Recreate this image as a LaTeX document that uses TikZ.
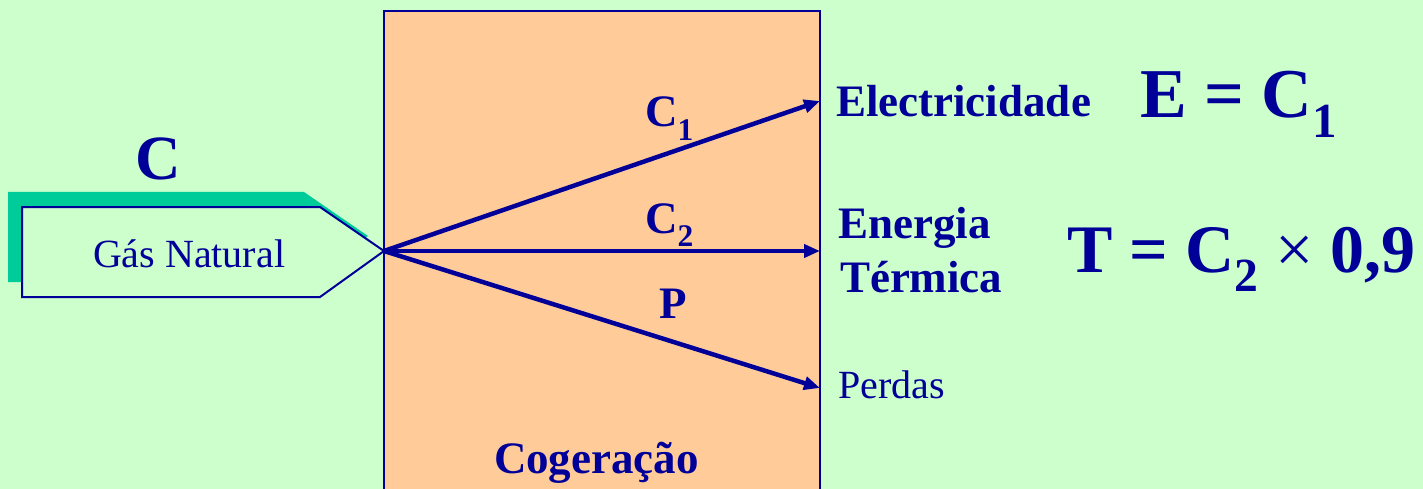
\documentclass[tikz,border=0pt]{standalone}
\usepackage{fontspec}
\setmainfont{Liberation Serif}
\usetikzlibrary{arrows.meta}
\definecolor{bgc}{HTML}{CCFFCC}
\definecolor{boxc}{HTML}{FFCC99}
\definecolor{navy}{HTML}{000099}
\definecolor{shadowc}{HTML}{00CC99}
\newcommand{\dsub}[2][0.28em]{\raisebox{-#1}{\scalebox{0.7}{#2}}}
\newcommand{\fs}[1]{\fontsize{#1}{#1}\selectfont}
\tikzset{
  txt/.style={inner sep=0pt, outer sep=0pt, anchor=base west, text=navy, font=\fs{40}},
  btxt/.style={txt, font=\fs{45}\bfseries},
  flow/.style={draw=navy, line width=4.5pt, -{Triangle[length=16pt,width=13pt]}},
}
\begin{document}
\begin{tikzpicture}[x=1pt,y=-1pt]
\fill[bgc] (0,0) rectangle (1423,489);
\useasboundingbox (0,0) rectangle (1423,489);
% Cogeracao box
\draw[fill=boxc, draw=navy, line width=2.5pt] (384,11) rectangle (820,495);
% shadow of gas arrow
\fill[shadowc] (8,192) -- (304,192) -- (368,236) -- (304,282) -- (8,282) -- cycle;
% gas arrow
\draw[fill=bgc, draw=navy, line width=2pt, line join=miter] (22,207) -- (320,207) -- (384,251) -- (320,297) -- (22,297) -- cycle;
\node[txt] (gas) at (93,267) {Gás Natural};
\node[txt, font=\fs{63}\bfseries] (C) at (135,179) {C};
% flows
\coordinate (src) at (384,251);
\coordinate (eE) at (820,101);
\coordinate (eT) at (820,251);
\coordinate (eP) at (820,388);
\draw[flow] (src) -- (eE);
\draw[flow] (src) -- (eT);
\draw[flow] (src) -- (eP);
\node[btxt] (c1) at (645,127) {C\dsub[0.3em]{1}};
\node[btxt] (c2) at (645,233) {C\dsub[0.3em]{2}};
\node[btxt] (p) at (659,318) {P};
\node[btxt, font=\fs{45}\bfseries] (cog) at (494,473) {Cogeração};
% outputs
\node[btxt] (elec) at (836,117) {Electricidade};
\node[btxt] (ener) at (838,238) {Energia};
\node[btxt] (term) at (840,292) {Térmica};
\node[txt] (perd) at (838,398) {Perdas};
\node[txt, font=\fs{70}\bfseries] (eqE) at (1140,118) {E = C\dsub{1}};
\node[txt, font=\fs{68}\bfseries] (eqT) at (1067,272) {T = C\dsub{2} {\mdseries ×} 0,9};
\end{tikzpicture}
\end{document}
